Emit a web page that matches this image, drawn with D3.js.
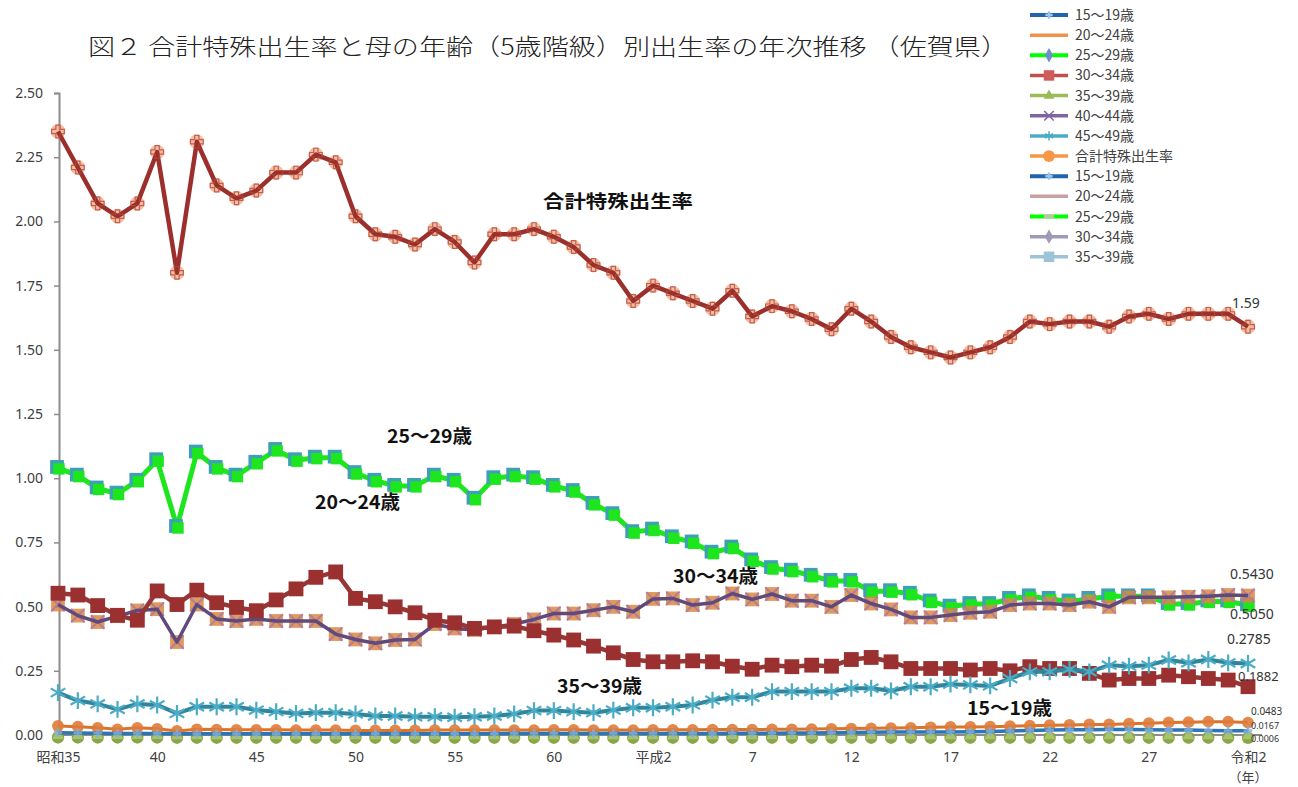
<!DOCTYPE html>
<html><head><meta charset="utf-8">
<script src="https://cdn.jsdelivr.net/npm/d3@7"></script>
<style>body{margin:0;background:#fff;} svg{display:block}</style>
</head><body><svg id="c" width="1298" height="787"></svg>
<script>
// ---------- data ----------
const years = d3.range(1960, 2021);
const tickYears = [1960,1965,1970,1975,1980,1985,1990,1995,2000,2005,2010,2015,2020];
const tickLabels = ["昭和35","40","45","50","55","60","平成2","7","12","17","22","27","令和2"];
const yTicks = [0,0.25,0.5,0.75,1.0,1.25,1.5,1.75,2.0,2.25,2.5];

const tfr = [2.35,2.21,2.07,2.02,2.07,2.27,1.80,2.31,2.14,2.09,
             2.12,2.19,2.19,2.26,2.23,2.02,1.95,1.94,1.91,1.97,
             1.92,1.84,1.95,1.95,1.97,1.94,1.90,1.83,1.80,1.69,
             1.75,1.72,1.69,1.66,1.73,1.63,1.67,1.65,1.62,1.58,
             1.66,1.61,1.55,1.51,1.49,1.47,1.49,1.51,1.55,1.61,
             1.60,1.61,1.61,1.59,1.63,1.64,1.62,1.64,1.64,1.64,1.59];
const age25_29 = [1.04,1.01,0.96,0.94,0.99,1.07,0.81,1.10,1.04,1.01,
             1.06,1.11,1.07,1.08,1.08,1.02,0.99,0.97,0.97,1.01,
             0.99,0.92,1.00,1.01,1.00,0.97,0.95,0.90,0.86,0.79,
             0.80,0.77,0.75,0.71,0.73,0.68,0.65,0.64,0.62,0.60,
             0.60,0.56,0.56,0.55,0.52,0.50,0.51,0.51,0.53,0.54,
             0.53,0.52,0.53,0.54,0.54,0.54,0.51,0.51,0.52,0.52,0.505];
const age20_24 = [0.552,0.545,0.504,0.466,0.447,0.561,0.508,0.564,0.515,0.497,
             0.484,0.526,0.569,0.614,0.635,0.532,0.519,0.499,0.476,0.447,
             0.437,0.415,0.421,0.424,0.406,0.389,0.370,0.346,0.320,0.294,
             0.285,0.285,0.289,0.285,0.268,0.256,0.272,0.266,0.272,0.268,
             0.294,0.302,0.285,0.259,0.259,0.259,0.253,0.259,0.250,0.266,
             0.259,0.259,0.240,0.214,0.220,0.220,0.233,0.227,0.220,0.214,0.1882];
const age30_34 = [0.508,0.465,0.440,0.463,0.485,0.490,0.362,0.508,0.452,0.444,
             0.452,0.444,0.444,0.444,0.393,0.372,0.357,0.370,0.372,0.432,
             0.415,0.409,0.421,0.432,0.450,0.473,0.473,0.486,0.499,0.480,
             0.530,0.532,0.506,0.515,0.551,0.528,0.549,0.523,0.523,0.499,
             0.545,0.512,0.489,0.458,0.458,0.467,0.476,0.480,0.506,0.512,
             0.512,0.506,0.519,0.499,0.536,0.536,0.536,0.538,0.540,0.545,0.543];
const age35_39 = [0.165,0.134,0.121,0.100,0.121,0.117,0.084,0.110,0.110,0.110,
             0.097,0.091,0.084,0.087,0.087,0.082,0.074,0.074,0.071,0.071,
             0.069,0.071,0.074,0.082,0.095,0.095,0.091,0.087,0.097,0.106,
             0.106,0.110,0.117,0.136,0.147,0.147,0.169,0.169,0.169,0.169,
             0.182,0.182,0.172,0.188,0.188,0.198,0.195,0.191,0.220,0.246,
             0.246,0.256,0.246,0.272,0.268,0.272,0.292,0.281,0.294,0.281,0.2785];
const age40_44 = [0.035,0.032,0.028,0.022,0.028,0.024,0.016,0.022,0.021,0.020,
             0.020,0.020,0.019,0.019,0.019,0.018,0.018,0.018,0.018,0.019,
             0.019,0.019,0.019,0.019,0.019,0.020,0.020,0.019,0.019,0.019,
             0.020,0.020,0.020,0.021,0.021,0.021,0.022,0.022,0.023,0.024,
             0.025,0.026,0.027,0.028,0.030,0.031,0.031,0.032,0.034,0.036,
             0.038,0.039,0.041,0.041,0.044,0.046,0.049,0.050,0.052,0.052,0.0483];
const age15_19 = [0.009,0.008,0.007,0.006,0.006,0.006,0.005,0.005,0.005,0.005,
             0.005,0.005,0.005,0.005,0.005,0.005,0.005,0.005,0.005,0.005,
             0.005,0.005,0.005,0.006,0.006,0.006,0.006,0.006,0.006,0.006,
             0.006,0.006,0.006,0.006,0.007,0.007,0.007,0.008,0.008,0.009,
             0.010,0.011,0.012,0.012,0.012,0.012,0.013,0.014,0.016,0.018,
             0.019,0.020,0.020,0.021,0.021,0.020,0.019,0.019,0.018,0.017,0.0167];
const age45_49 = [0.002,0.002,0.002,0.002,0.002,0.002,0.001,0.001,0.001,0.001,
             0.001,0.001,0.001,0.001,0.001,0.001,0.001,0.001,0.001,0.001,
             0.001,0.001,0.001,0.001,0.001,0.001,0.001,0.001,0.001,0.001,
             0.001,0.001,0.001,0.001,0.001,0.001,0.001,0.001,0.001,0.001,
             0.001,0.001,0.001,0.001,0.001,0.001,0.001,0.001,0.001,0.001,
             0.001,0.001,0.001,0.001,0.001,0.001,0.001,0.001,0.001,0.001,0.0006];

const legendNames = ["15～19歳","20～24歳","25～29歳","30～34歳","35～39歳","40～44歳","45～49歳",
                     "合計特殊出生率","15～19歳","20～24歳","25～29歳","30～34歳","35～39歳"];
const endLabels = ["1.59","0.5430","0.5050","0.2785","0.1882","0.0483","0.0167","0.0006"];

// ---------- chart ----------
const svg = d3.select("#c");
const JP = "'Noto Sans CJK JP', sans-serif";
const NUM = "'Noto Sans', 'Noto Sans CJK JP', sans-serif";

const x = d3.scaleLinear().domain([1960, 2020]).range([58, 1248]);
const y = d3.scaleLinear().domain([0, 2.5]).range([735, 93]);

// title
svg.append("text").attr("x", 88).attr("y", 55)
  .attr("font-family", JP).attr("font-size", 23).attr("font-weight", 300).attr("fill", "#222")
  .attr("textLength", 920).attr("lengthAdjust", "spacingAndGlyphs")
  .text("図２ 合計特殊出生率と母の年齢（5歳階級）別出生率の年次推移 （佐賀県）");

// axes
const yAxis = svg.append("g").attr("transform", "translate(59,0)")
  .call(d3.axisLeft(y).tickValues(yTicks).tickFormat(d3.format(".2f")).tickSize(5).tickPadding(11));
const xAxis = svg.append("g").attr("transform", "translate(0,735)")
  .call(d3.axisBottom(x).tickValues(tickYears).tickFormat((d, i) => tickLabels[i]).tickSize(0).tickPadding(17));
[yAxis, xAxis].forEach(g => {
  g.select(".domain").attr("stroke", "#8c8c8c").attr("stroke-width", 2);
  g.selectAll(".tick line").attr("stroke", "#8c8c8c").attr("stroke-width", 1.5);
  g.selectAll("text").attr("font-family", NUM).attr("font-size", 14).attr("fill", "#404040");
});
xAxis.select(".domain").attr("d", `M59,0H1262`);
svg.append("text").attr("x", x(2020)).attr("y", 782).attr("text-anchor", "middle")
  .attr("font-family", JP).attr("font-size", 13).attr("fill", "#404040").text("（年）");

const line = d3.line().x((d, i) => x(years[i])).y(d => y(d));
const plot = svg.append("g");

function drawLine(vals, color, width) {
  plot.append("path").datum(vals).attr("d", line).attr("fill", "none")
    .attr("stroke", color).attr("stroke-width", width).attr("stroke-linejoin", "round");
}
function drawMarkers(vals, symType, size, fill, stroke, sw, opacity, dx = 0, dy = 0) {
  plot.append("g").selectAll("path").data(vals).join("path")
    .attr("transform", (d, i) => `translate(${x(years[i]) + dx},${y(d) + dy})`)
    .attr("d", d3.symbol().type(symType).size(size))
    .attr("fill", fill).attr("stroke", stroke).attr("stroke-width", sw).attr("opacity", opacity);
}

// 25～29歳 (green)
drawLine(age25_29, "#1ee61e", 5);
drawMarkers(age25_29, d3.symbolSquare, 190, "#3d9fb8", "none", 0, 1, -1, -1);
drawMarkers(age25_29, d3.symbolSquare, 130, "#1ee61e", "none", 0, 1, 1, 1);

// 30～34歳 (purple line with brown x squares)
drawMarkers(age30_34, d3.symbolSquare, 190, "#d9883f", "none", 0, 0.85);
drawMarkers(age30_34, d3.symbolTimes, 120, "none", "#b07aa0", 2, 0.9);
drawLine(age30_34, "#604a7b", 3.5);

// 20～24歳 (dark red squares)
drawLine(age20_24, "#953735", 4.5);
drawMarkers(age20_24, d3.symbolSquare, 220, "#9a3030", "none", 0, 1);

// 35～39歳 (teal asterisks)
drawLine(age35_39, "#31859c", 4);
drawMarkers(age35_39, d3.symbolAsterisk, 200, "none", "#4bacc6", 2.2, 1);

// 45～49歳 (olive, near zero)
drawMarkers(age45_49, d3.symbolCircle, 120, "#8aa64a", "none", 0, 1, 0, 3);
drawMarkers(age45_49, d3.symbolTriangle, 60, "#a9c36a", "none", 0, 1, 0, 1);

// 40～44歳 (orange circles)
drawLine(age40_44, "#d9752a", 3);
drawMarkers(age40_44, d3.symbolCircle, 110, "#e07b39", "none", 0, 0.9);

// 15～19歳 (blue)
drawLine(age15_19, "#2e75b6", 3.5);
drawMarkers(age15_19, d3.symbolCross, 40, "#7fb0e0", "none", 0, 0.8);

// 合計特殊出生率
drawMarkers(tfr, d3.symbolCircle, 170, "#f3a07a", "none", 0, 0.7);
drawLine(tfr, "#9b2f2c", 4.5);
drawMarkers(tfr, d3.symbolCross, 90, "none", "#b04a3a", 1.2, 0.8);

// in-chart labels
const labels = [
  {t: "合計特殊出生率", x: 543, y: 208, w: 150, fs: 18},
  {t: "25～29歳", x: 387, y: 443, w: 85, fs: 19},
  {t: "20～24歳", x: 315, y: 509, w: 85, fs: 19},
  {t: "30～34歳", x: 673, y: 583, w: 85, fs: 19},
  {t: "35～39歳", x: 557, y: 693, w: 85, fs: 19},
  {t: "15～19歳", x: 967, y: 715, w: 85, fs: 19}
];
svg.append("g").selectAll("text").data(labels).join("text")
  .attr("x", d => d.x).attr("y", d => d.y).attr("font-family", JP).attr("font-weight", "bold")
  .attr("font-size", d => d.fs).attr("fill", "#111")
  .attr("textLength", d => d.w).attr("lengthAdjust", "spacingAndGlyphs").text(d => d.t);

// end value labels
const endPos = [
  {x: 1232, y: 308, fs: 14}, {x: 1230, y: 579, fs: 14}, {x: 1230, y: 619, fs: 14},
  {x: 1227, y: 644, fs: 14}, {x: 1238, y: 681, fs: 13}, {x: 1251, y: 715, fs: 10},
  {x: 1251, y: 729, fs: 9}, {x: 1251, y: 742, fs: 9}
];
svg.append("g").selectAll("text").data(endLabels).join("text")
  .attr("x", (d, i) => endPos[i].x).attr("y", (d, i) => endPos[i].y)
  .attr("font-family", NUM).attr("font-size", (d, i) => endPos[i].fs).attr("fill", "#333").text(d => d);

// legend
const lg = svg.append("g");
const lx0 = 1030, lx1 = 1068, ly0 = 15, ldy = 20.15;
const legendStyle = [
  {c: "#1f64ad", w: 4, m: d3.symbolCross, mf: "#9cc4ea", ms: 30},
  {c: "#f0914a", w: 3.5},
  {c: "#00ff00", w: 4, m: d3.symbolDiamond, mf: "#6f8fc9", ms: 60},
  {c: "#c0504d", w: 3.5, m: d3.symbolSquare, mf: "#d05c5a", ms: 110},
  {c: "#9bbb59", w: 3.5, m: d3.symbolTriangle, mf: "#9bbb59", ms: 50},
  {c: "#8064a2", w: 3.5, m: d3.symbolTimes, ms: 60, ms_stroke: "#8064a2"},
  {c: "#4bacc6", w: 3.5, m: d3.symbolAsterisk, ms: 60, ms_stroke: "#4bacc6"},
  {c: "#f79646", w: 3.5, m: d3.symbolCircle, mf: "#f79646", ms: 110},
  {c: "#1f64ad", w: 4, m: d3.symbolCross, mf: "#9cc4ea", ms: 30},
  {c: "#c8a0a0", w: 3.5},
  {c: "#00ff00", w: 4, dash: true},
  {c: "#a09ab8", w: 3.5, m: d3.symbolDiamond, mf: "#a09ab8", ms: 60},
  {c: "#9dc3d6", w: 3.5, m: d3.symbolSquare, mf: "#9dc3d6", ms: 110}
];
legendNames.forEach((name, i) => {
  const s = legendStyle[i];
  const yy = ly0 + i * ldy;
  lg.append("line").attr("x1", lx0).attr("x2", lx1).attr("y1", yy).attr("y2", yy)
    .attr("stroke", s.c).attr("stroke-width", s.w);
  if (s.dash) {
    lg.append("line").attr("x1", lx0 + 14).attr("x2", lx0 + 24).attr("y1", yy).attr("y2", yy)
      .attr("stroke", "#b8c8a0").attr("stroke-width", s.w);
  }
  if (s.m) {
    lg.append("path").attr("transform", `translate(${(lx0 + lx1) / 2},${yy})`)
      .attr("d", d3.symbol().type(s.m).size(s.ms))
      .attr("fill", s.mf || "none").attr("stroke", s.ms_stroke || "none").attr("stroke-width", 1.5);
  }
  lg.append("text").attr("x", 1075).attr("y", yy + 5).attr("font-family", JP)
    .attr("font-size", 14).attr("fill", "#404040").text(name);
});
</script>
</body></html>
